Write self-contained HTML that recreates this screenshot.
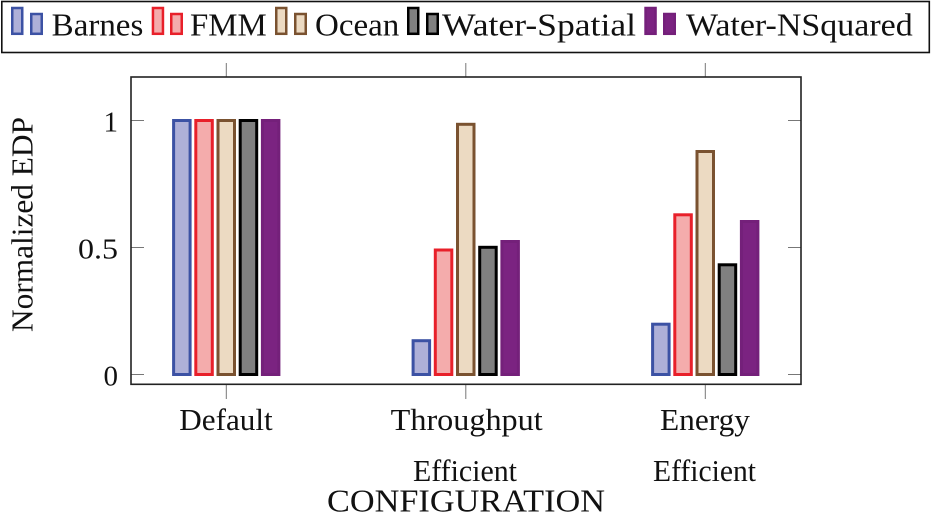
<!DOCTYPE html>
<html>
<head>
<meta charset="utf-8">
<style>
html,body{margin:0;padding:0;background:#fff;}
svg{display:block;}
text{font-family:"Liberation Serif",serif;fill:#111;}
</style>
</head>
<body>
<svg width="932" height="514" viewBox="0 0 932 514" xmlns="http://www.w3.org/2000/svg">
  <!-- Legend -->
  <rect x="1.8" y="1.5" width="927.5" height="51" fill="#fff" stroke="#111" stroke-width="1.6"/>
  <!-- Barnes -->
  <rect x="12.25" y="8" width="10" height="25.8" fill="#aeb0d8" stroke="#3c52a4" stroke-width="2.5"/>
  <rect x="31.25" y="14" width="10.5" height="19.8" fill="#aeb0d8" stroke="#3c52a4" stroke-width="2.5"/>
  <text x="51.7" y="35.5" font-size="32" textLength="91.6" lengthAdjust="spacingAndGlyphs">Barnes</text>
  <!-- FMM -->
  <rect x="152.95" y="8" width="10" height="25.8" fill="#f4acac" stroke="#e8202a" stroke-width="2.5"/>
  <rect x="171.25" y="14" width="10.5" height="19.8" fill="#f4acac" stroke="#e8202a" stroke-width="2.5"/>
  <text x="190" y="35.5" font-size="32" textLength="76.7" lengthAdjust="spacingAndGlyphs">FMM</text>
  <!-- Ocean -->
  <rect x="276.25" y="8" width="10" height="25.8" fill="#ecdac2" stroke="#7a5230" stroke-width="2.5"/>
  <rect x="295.25" y="14" width="10.5" height="19.8" fill="#ecdac2" stroke="#7a5230" stroke-width="2.5"/>
  <text x="315" y="35.5" font-size="32" textLength="84.3" lengthAdjust="spacingAndGlyphs">Ocean</text>
  <!-- Water-Spatial -->
  <rect x="408.25" y="8" width="10" height="25.8" fill="#808080" stroke="#000" stroke-width="2.5"/>
  <rect x="427.25" y="14" width="10.5" height="19.8" fill="#808080" stroke="#000" stroke-width="2.5"/>
  <text x="442" y="35.5" font-size="32" textLength="194" lengthAdjust="spacingAndGlyphs">Water-Spatial</text>
  <!-- Water-NSquared -->
  <rect x="645.55" y="8" width="10" height="25.8" fill="#7b2381" stroke="#74207a" stroke-width="2.5"/>
  <rect x="664.25" y="14" width="10.5" height="19.8" fill="#7b2381" stroke="#74207a" stroke-width="2.5"/>
  <text x="686" y="35.5" font-size="32" textLength="226.7" lengthAdjust="spacingAndGlyphs">Water-NSquared</text>

  <!-- Axis ticks -->
  <g stroke="#777" stroke-width="1">
    <line x1="131" y1="120.5" x2="144" y2="120.5"/>
    <line x1="131" y1="247.5" x2="144" y2="247.5"/>
    <line x1="131" y1="374.5" x2="144" y2="374.5"/>
    <line x1="788" y1="120.5" x2="801" y2="120.5"/>
    <line x1="788" y1="247.5" x2="801" y2="247.5"/>
    <line x1="788" y1="374.5" x2="801" y2="374.5"/>
    <line x1="226.3" y1="63" x2="226.3" y2="77"/>
    <line x1="465.8" y1="63" x2="465.8" y2="77"/>
    <line x1="705.3" y1="63" x2="705.3" y2="77"/>
    <line x1="226.3" y1="384" x2="226.3" y2="399"/>
    <line x1="465.8" y1="384" x2="465.8" y2="399"/>
    <line x1="705.3" y1="384" x2="705.3" y2="399"/>
  </g>

  <!-- Bars: Default -->
  <g stroke-width="3">
    <rect x="173.6" y="120.5" width="16.5" height="254" fill="#aeb0d8" stroke="#3c52a4"/>
    <rect x="195.8" y="120.5" width="16.5" height="254" fill="#f4acac" stroke="#e8202a"/>
    <rect x="218.0" y="120.5" width="16.5" height="254" fill="#ecdac2" stroke="#7a5230"/>
    <rect x="240.2" y="120.5" width="16.5" height="254" fill="#808080" stroke="#000"/>
    <rect x="262.4" y="120.5" width="16.5" height="254" fill="#7b2381" stroke="#74207a"/>
  </g>
  <!-- Bars: Throughput Efficient -->
  <g stroke-width="3">
    <rect x="413.1" y="340.7" width="16.5" height="33.8" fill="#aeb0d8" stroke="#3c52a4"/>
    <rect x="435.3" y="250.0" width="16.5" height="124.5" fill="#f4acac" stroke="#e8202a"/>
    <rect x="457.5" y="124.3" width="16.5" height="250.2" fill="#ecdac2" stroke="#7a5230"/>
    <rect x="479.7" y="247.3" width="16.5" height="127.2" fill="#808080" stroke="#000"/>
    <rect x="501.9" y="241.5" width="16.5" height="133" fill="#7b2381" stroke="#74207a"/>
  </g>
  <!-- Bars: Energy Efficient -->
  <g stroke-width="3">
    <rect x="652.6" y="324.2" width="16.5" height="50.3" fill="#aeb0d8" stroke="#3c52a4"/>
    <rect x="674.8" y="214.8" width="16.5" height="159.7" fill="#f4acac" stroke="#e8202a"/>
    <rect x="697.0" y="151.5" width="16.5" height="223" fill="#ecdac2" stroke="#7a5230"/>
    <rect x="719.2" y="264.8" width="16.5" height="109.7" fill="#808080" stroke="#000"/>
    <rect x="741.4" y="221.5" width="16.5" height="153" fill="#7b2381" stroke="#74207a"/>
  </g>

  <!-- Plot frame -->
  <rect x="131" y="77" width="670" height="307.3" fill="none" stroke="#222" stroke-width="1.6"/>

  <!-- Y tick labels -->
  <text x="118" y="131.5" font-size="29" text-anchor="end">1</text>
  <text x="118" y="258.3" font-size="29" text-anchor="end" textLength="40" lengthAdjust="spacingAndGlyphs">0.5</text>
  <text x="118" y="385.5" font-size="29" text-anchor="end">0</text>

  <!-- Y axis label -->
  <text transform="translate(32.5,224.5) rotate(-90)" font-size="31" text-anchor="middle" textLength="215" lengthAdjust="spacingAndGlyphs">Normalized EDP</text>

  <!-- X tick labels -->
  <text x="226" y="430" font-size="31" text-anchor="middle" textLength="93.4" lengthAdjust="spacingAndGlyphs">Default</text>
  <text x="466.7" y="430" font-size="31" text-anchor="middle" textLength="152" lengthAdjust="spacingAndGlyphs">Throughput</text>
  <text x="465" y="481" font-size="31" text-anchor="middle" textLength="104" lengthAdjust="spacingAndGlyphs">Efficient</text>
  <text x="705" y="430" font-size="31" text-anchor="middle" textLength="90" lengthAdjust="spacingAndGlyphs">Energy</text>
  <text x="704.5" y="481" font-size="31" text-anchor="middle" textLength="103" lengthAdjust="spacingAndGlyphs">Efficient</text>

  <!-- X axis label -->
  <text x="466" y="511.5" font-size="31.5" text-anchor="middle" textLength="278" lengthAdjust="spacingAndGlyphs">CONFIGURATION</text>
</svg>
</body>
</html>
